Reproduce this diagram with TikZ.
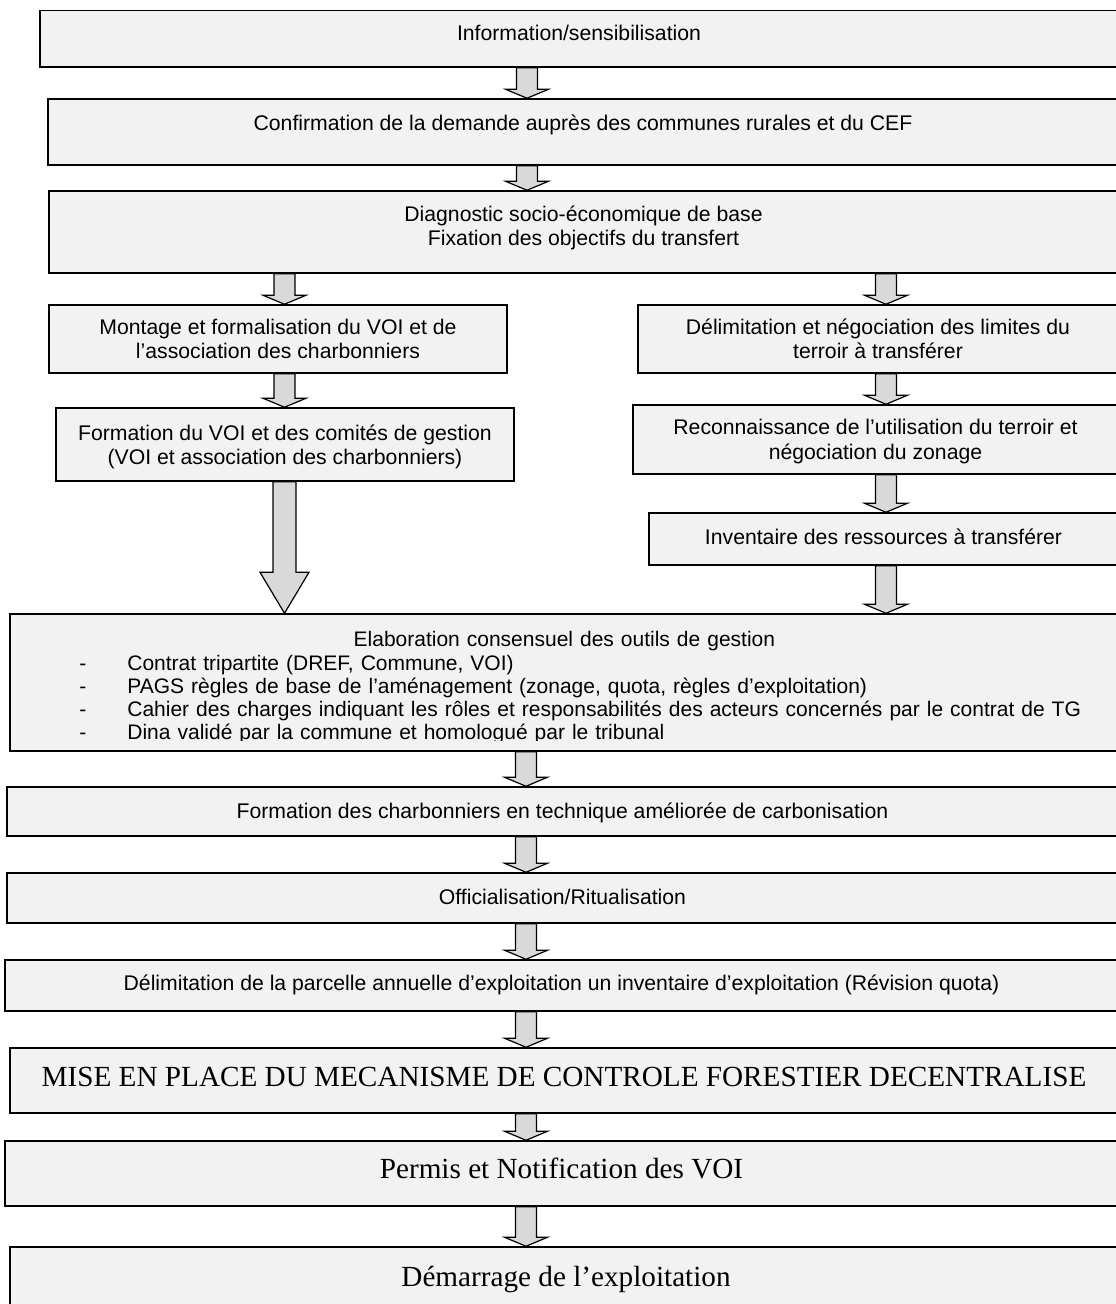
\documentclass[tikz,border=0pt]{standalone}
\usepackage{fontspec}
\setmainfont{Liberation Serif}
\setsansfont{Liberation Sans}
\usetikzlibrary{calc}
\definecolor{boitegris}{HTML}{F2F2F2}
\definecolor{flechegris}{HTML}{D9D9D9}
\newcommand{\tiret}{\hspace*{39.5pt}\makebox[24pt][l]{-}}

\begin{document}
\begin{tikzpicture}[x=0.5pt, y=-0.5pt,
    boite/.style={draw=black, line width=0.75pt, fill=boitegris, inner sep=0pt, align=center,
      font=\sffamily\fontsize{10.6}{12.2}\selectfont},
    taille/.style 2 args={minimum width=#1pt, minimum height=#2pt},
    serif/.style={font=\rmfamily\fontsize{14.6}{17}\selectfont},
    lift/.style={text depth=#1},
    fleche/.style n args={3}{draw=black, line width=0.6pt, fill=flechegris,
      to path={($(\tikztostart)+(-#1,0)$) -- ($(\tikztostart)+(#1,0)$)
        -- ($(\tikztotarget)+(#1,-#3)$) -- ($(\tikztotarget)+(#2,-#3)$)
        -- (\tikztotarget) -- ($(\tikztotarget)+(-#2,-#3)$)
        -- ($(\tikztotarget)+(-#1,-#3)$) -- cycle}},
    petite/.style={fleche={10.5}{21.5}{9}},
    grande/.style={fleche={11.5}{24.5}{41}}]

    \useasboundingbox (0,0) rectangle (1115,1304);

    % colonnes des fleches
    \coordinate (cm) at (527,0);
    \coordinate (cg) at (284.5,0);
    \coordinate (cd) at (886,0);
    \coordinate (cb) at (526,0);

    \node[boite, taille={539}{28.25}, lift=5.9pt] (info) at (579,38.75) {Information/sensibilisation};
    \node[boite, taille={535}{33}, lift=9.1pt] (conf) at (583,132) {Confirmation de la demande auprès des communes rurales et du CEF};
    \node[boite, taille={534.5}{41}, lift=6.6pt] (diag) at (583.5,232) {Diagnostic socio-économique de base\\Fixation des objectifs du transfert};

    \node[boite, taille={229}{34}] (mont) at (278,339) {Montage et formalisation du VOI et de\\l’association des charbonniers};
    \node[boite, taille={229}{36.5}, lift=0pt] (formv) at (285,444.5) {Formation du VOI et des comités de gestion\\(VOI et association des charbonniers)};

    \node[boite, taille={240}{34}] (delim) at (878,339) {Délimitation et négociation des limites du\\terroir à transférer};
    \node[boite, taille={242.5}{34.5}, lift=0pt] (recon) at (875.5,439.5) {Reconnaissance de l’utilisation du terroir et\\négociation du zonage};
    \node[boite, taille={234.5}{26}, lift=2.1pt] (inv) at (883.5,539) {Inventaire des ressources à transférer};

    \node[boite, taille={554}{68.5}] (elab) at (564,682.5) {};
    \begin{scope}
      \clip (elab.north west) rectangle ($(elab.south east)+(0,-11)$);
      \node[anchor=north west, inner sep=0pt, align=left, text width=600pt,
        font=\sffamily\fontsize{10.5}{11.5}\selectfont] (elabtxt) at (0,630.5)
        {\makebox[564pt][c]{Elaboration consensuel des outils de gestion}\\[0.5pt]
         \tiret Contrat tripartite (DREF, Commune, VOI)\\
         \tiret PAGS règles de base de l’aménagement (zonage, quota, règles d’exploitation)\\
         \tiret Cahier des charges indiquant les rôles et responsabilités des acteurs concernés par le contrat de TG\\
         \tiret Dina validé par la commune et homologué par le tribunal};
    \end{scope}

    \node[boite, taille={555.5}{24.5}, lift=0.6pt] (formc) at (562.5,811.5) {Formation des charbonniers en technique améliorée de carbonisation};
    \node[boite, taille={555.5}{25}, lift=1.1pt] (offi) at (562.5,898) {Officialisation/Ritualisation};
    \node[boite, taille={556.5}{25.5}, lift=2.5pt] (parc) at (561.5,985.5) {Délimitation de la parcelle annuelle d’exploitation un inventaire d’exploitation (Révision quota)};

    \node[boite, serif, taille={554}{32.5}, lift=3.5pt] (mise) at (564,1080.5) {MISE EN PLACE DU MECANISME DE CONTROLE FORESTIER DECENTRALISE};
    \node[boite, serif, taille={556.5}{32.5}, lift=4.8pt] (perm) at (561.5,1173.5) {Permis et Notification des VOI};
    \node[boite, serif, taille={556}{30.5}, lift=0.8pt] (dem) at (566,1277.5) {Démarrage de l’exploitation};

    \draw[petite] (info.south -| cm) to (conf.north -| cm);
    \draw[petite] (conf.south -| cm) to (diag.north -| cm);

    \draw[petite] (diag.south -| cg) to (mont.north -| cg);
    \draw[petite] (mont.south -| cg) to (formv.north -| cg);
    \draw[grande] (formv.south -| cg) to (elab.north -| cg);

    \draw[petite] (diag.south -| cd) to (delim.north -| cd);
    \draw[petite] (delim.south -| cd) to (recon.north -| cd);
    \draw[petite] (recon.south -| cd) to (inv.north -| cd);
    \draw[petite] (inv.south -| cd) to (elab.north -| cd);

    \draw[petite] (elab.south -| cb) to (formc.north -| cb);
    \draw[petite] (formc.south -| cb) to (offi.north -| cb);
    \draw[petite] (offi.south -| cb) to (parc.north -| cb);
    \draw[petite] (parc.south -| cb) to (mise.north -| cb);
    \draw[petite] (mise.south -| cb) to (perm.north -| cb);
    \draw[petite] (perm.south -| cb) to (dem.north -| cb);
\end{tikzpicture}
\end{document}
